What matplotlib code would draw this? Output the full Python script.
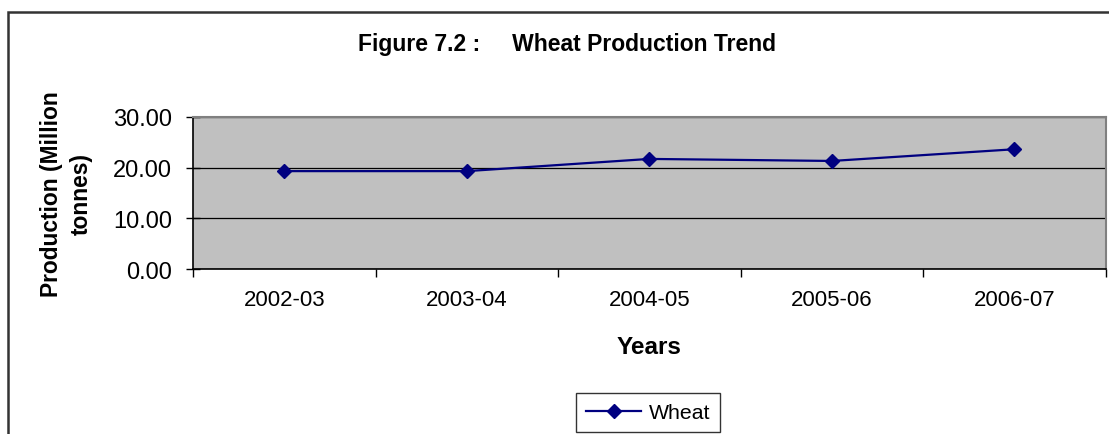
import matplotlib
matplotlib.use("Agg")
import matplotlib.pyplot as plt
from matplotlib.patches import Rectangle

years = ["2002-03", "2003-04", "2004-05", "2005-06", "2006-07"]
wheat = [19.3, 19.3, 21.7, 21.3, 23.6]
yticks = [0, 10, 20, 30]

plt.rcParams['font.family'] = ['Liberation Sans', 'DejaVu Sans']

W, H = 1109, 435
fig = plt.figure(figsize=(W / 100, H / 100), dpi=100)

# outer chart border (left and top visible)
fig.patches.append(Rectangle((8 / W, -0.1), 1.2, (H - 13) / H + 0.1,
                             transform=fig.transFigure, fill=False,
                             edgecolor='#333333', linewidth=1.8))

l, r = 193 / W, 1105.7 / W
b, t = (H - 270.3) / H, (H - 117.7) / H
ax = fig.add_axes([l, b, r - l, t - b])
ax.set_facecolor('#C0C0C0')

x = list(range(len(years)))
ax.plot(x, wheat, color='#000080', linewidth=1.6, marker='D',
        markersize=7, label='Wheat', zorder=3)

ax.set_xlim(-0.5, len(years) - 0.5)
ax.set_ylim(0, 30)
ax.set_yticks(yticks)
ax.set_yticklabels([f"{v:.2f}" for v in yticks], fontsize=17)
ax.set_xticks(x)
ax.set_xticklabels(years, fontsize=16)
ax.tick_params(axis='x', length=0, pad=14)
ax.set_xticks([i - 0.5 for i in range(len(years) + 1)], minor=True)
ax.tick_params(axis='x', which='minor', length=6, width=1, color='black', direction='out')
ax.tick_params(axis='y', length=10, width=1, direction='inout', pad=10)

ax.grid(axis='y', color='black', linewidth=0.9)
ax.set_axisbelow(True)
for s in ['left', 'bottom']:
    ax.spines[s].set_color('black')
    ax.spines[s].set_linewidth(1.2)
for s in ['top', 'right']:
    ax.spines[s].set_color('#808080')
    ax.spines[s].set_linewidth(1.5)

ax.set_xlabel("Years", fontsize=17.5, fontweight='bold', labelpad=18)
ax.set_ylabel("Production (Million\ntonnes)", fontsize=16.4, fontweight='bold',
              labelpad=15, linespacing=1.35)

fig.text(567 / W, 1 - 45 / H, "Figure 7.2 :     Wheat Production Trend",
         ha='center', va='center', fontsize=16.5, fontweight='bold')

leg = fig.legend(loc='center', bbox_to_anchor=(648 / W, 1 - 413.5 / H),
                 fontsize=15.3, handlelength=2.6, frameon=True, fancybox=False,
                 borderpad=0.45, handletextpad=0.35)
leg.get_frame().set_edgecolor('black')
leg.get_frame().set_linewidth(1.0)

fig.savefig("out.png", dpi=100)
